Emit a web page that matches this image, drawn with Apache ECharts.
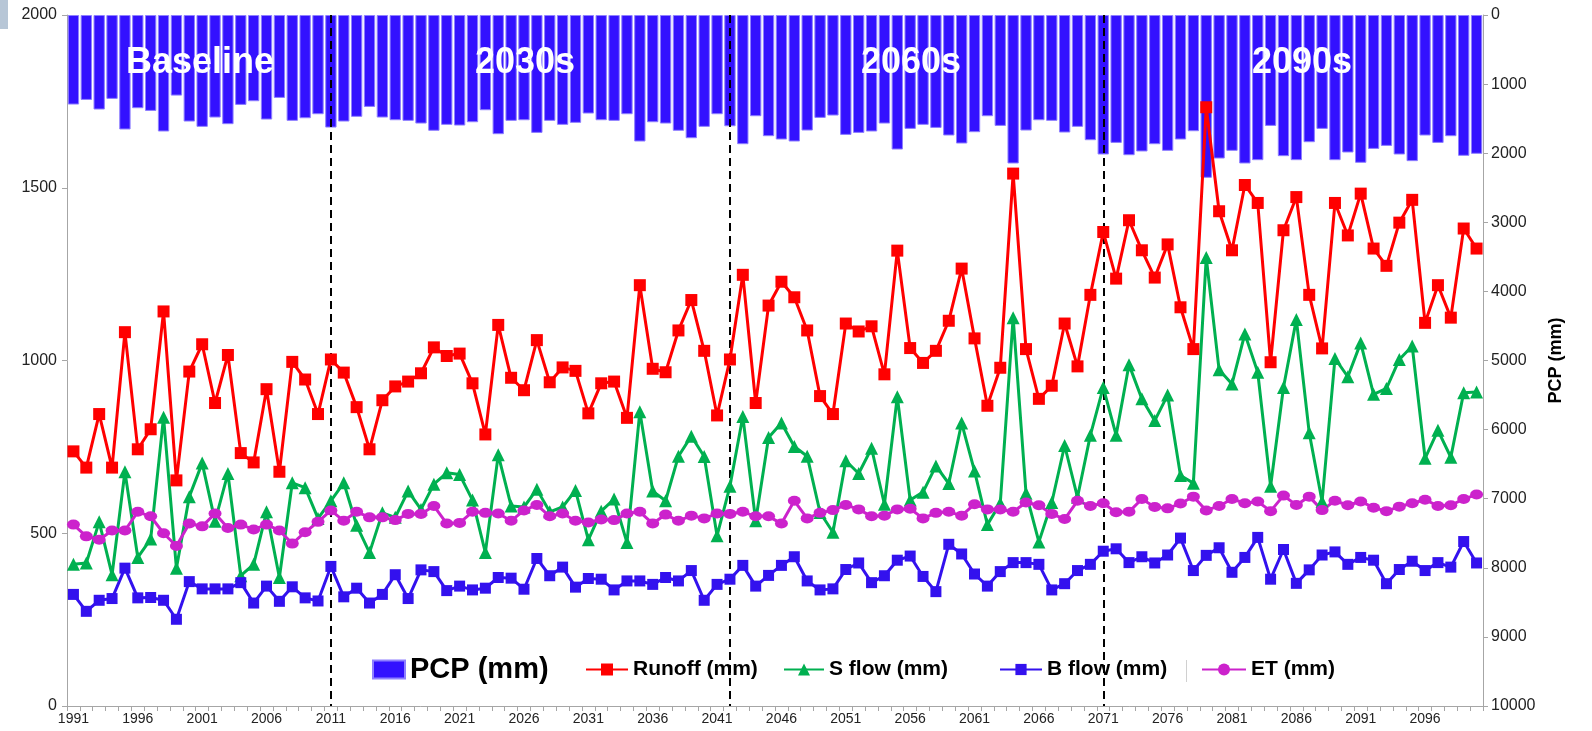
<!DOCTYPE html>
<html>
<head>
<meta charset="utf-8">
<script src="https://cdn.jsdelivr.net/npm/echarts@6/dist/echarts.min.js"></script>
<style>
html,body{margin:0;padding:0;background:#fff;}
#chart{width:1592px;height:731px;}
</style>
</head>
<body>
<div id="chart"></div>
<script>
// Categories: years 1991..2100
const years = Array.from({length: 110}, (_, i) => String(1991 + i));

const pcp = [
  1296,1229,1368,1214,1657,1349,1388,1686,1166,1542,
  1619,1484,1580,1301,1248,1513,1200,1532,1494,1436,
  1629,1542,1474,1330,1484,1523,1532,1571,1676,1590,
  1600,1552,1378,1725,1532,1523,1706,1532,1590,1561,
  1426,1523,1532,1436,1831,1552,1571,1676,1783,1619,
  1436,1610,1870,1465,1754,1802,1831,1672,1489,1455,
  1735,1706,1686,1571,1947,1648,1590,1634,1744,1860,
  1696,1465,1605,2149,1672,1523,1532,1701,1619,1812,
  2019,1851,2029,1975,1870,1966,1802,1682,2356,2077,
  1966,2149,2101,1605,2043,2101,1841,1648,2101,1990,
  2139,1938,1894,2019,2115,1744,1851,1754,2038,2009
];
const runoff = [
  737,690,845,690,1082,743,801,1142,653,968,
  1047,877,1016,732,705,917,678,996,945,845,
  1003,965,865,743,885,925,939,963,1038,1013,
  1020,934,786,1103,950,914,1059,937,980,970,
  847,934,939,834,1218,976,966,1087,1175,1028,
  841,1003,1248,877,1159,1228,1183,1087,897,845,
  1107,1084,1099,960,1318,1036,993,1028,1115,1266,
  1064,869,979,1541,1033,889,927,1107,983,1190,
  1372,1237,1406,1319,1240,1336,1154,1033,1733,1432,
  1319,1508,1456,995,1377,1473,1190,1035,1456,1362,
  1483,1324,1274,1399,1465,1109,1218,1124,1382,1324
];
const sflow = [
  410,414,533,380,678,430,483,836,399,606,
  703,535,673,377,410,562,372,646,632,543,
  594,646,523,444,559,546,622,569,642,675,
  670,596,444,727,579,576,627,562,576,624,
  481,564,599,473,852,622,594,723,781,722,
  493,636,838,536,777,819,751,723,560,503,
  710,673,746,584,895,596,619,695,644,819,
  680,525,587,1124,616,475,589,754,604,784,
  922,784,988,889,826,900,667,645,1298,973,
  932,1077,966,636,922,1119,791,592,1006,953,
  1051,902,919,1003,1042,717,798,720,907,909
];
const bflow = [
  323,274,306,311,399,313,314,306,251,360,
  339,339,339,357,298,347,303,345,313,304,
  404,316,341,298,323,380,311,394,389,334,
  347,336,341,372,370,338,427,377,402,344,
  369,367,336,362,362,352,372,362,392,306,
  352,367,407,347,378,407,432,362,336,339,
  395,414,357,377,422,434,375,331,468,440,
  382,347,389,415,415,410,336,354,392,410,
  448,455,415,432,414,437,486,392,436,458,
  387,430,488,367,453,355,394,437,446,410,
  430,422,354,395,419,392,415,402,476,414
];
const et = [
  525,491,481,508,508,562,549,500,463,528,
  520,557,515,525,511,525,508,470,503,533,
  566,536,562,546,546,538,556,556,579,528,
  530,562,559,557,536,566,582,549,557,536,
  531,540,538,557,562,528,554,536,551,543,
  557,556,562,549,549,528,594,543,559,567,
  582,569,549,551,569,571,543,559,562,551,
  584,569,569,562,589,581,556,541,594,579,
  587,561,562,599,576,572,586,606,566,579,
  599,587,592,564,609,582,606,567,594,581,
  592,574,564,577,587,597,579,581,599,612
];
const periodBreaks = ['2011', '2042', '2071'];
const periodLabels = ['Baseline', '2030s', '2060s', '2090s'];
const leftTicks = {min: 0, max: 2000, interval: 500};
const rightTicks = {min: 0, max: 10000, interval: 1000};

const chart = echarts.init(document.getElementById('chart'));
const FONT = '"Liberation Sans", Arial, sans-serif';
const labelColor = '#222';
const axisGrey = '#a6a6a6';
const plain = v => String(v);

function lineSeries(name, data, color, symbol, size, width) {
  return {
    name, type: 'line', data, yAxisIndex: 0,
    symbol, symbolSize: size, showSymbol: true, showAllSymbol: true,
    lineStyle: {color, width},
    itemStyle: {color},
    z: 5
  };
}

const periodCenters = [200, 525, 911, 1302];
const legendText = {fontFamily: FONT, fontWeight: 'bold', fontSize: 21, color: '#000'};

const option = {
  animation: false,
  grid: {left: 67, right: 109, top: 15, bottom: 25, containLabel: false},
  xAxis: {
    type: 'category', data: years, boundaryGap: true,
    axisLine: {lineStyle: {color: axisGrey, width: 1}},
    axisTick: {show: true, interval: 0, length: 5, lineStyle: {color: axisGrey}},
    axisLabel: {interval: 4, color: labelColor, fontFamily: FONT, fontSize: 14, margin: 6}
  },
  yAxis: [
    {
      type: 'value', min: leftTicks.min, max: leftTicks.max, interval: leftTicks.interval,
      position: 'left',
      splitLine: {show: false},
      axisLine: {show: true, lineStyle: {color: axisGrey}},
      axisTick: {show: true, length: 5, lineStyle: {color: axisGrey}},
      axisLabel: {color: labelColor, fontFamily: FONT, fontSize: 16, margin: 10, formatter: plain}
    },
    {
      type: 'value', min: rightTicks.min, max: rightTicks.max, interval: rightTicks.interval,
      position: 'right', inverse: true,
      name: 'PCP (mm)', nameLocation: 'middle', nameGap: 64, nameRotate: 90,
      nameTextStyle: {color: '#000', fontFamily: FONT, fontWeight: 'bold', fontSize: 18},
      splitLine: {show: false},
      axisLine: {show: true, lineStyle: {color: axisGrey}},
      axisTick: {show: true, length: 5, lineStyle: {color: axisGrey}},
      axisLabel: {color: labelColor, fontFamily: FONT, fontSize: 16, margin: 8, formatter: plain}
    }
  ],
  legend: [
    {data: [{name: 'PCP (mm)', icon: 'rect'}], left: 372, top: 655, padding: 0, itemWidth: 32, itemHeight: 18,
     textStyle: {fontFamily: FONT, fontWeight: 'bold', fontSize: 29, color: '#000'}},
    {data: ['Runoff (mm)'], left: 585, top: 659, padding: 0, itemWidth: 42, itemHeight: 15, textStyle: legendText},
    {data: ['S flow (mm)'], left: 783, top: 659, padding: 0, itemWidth: 40, itemHeight: 15, textStyle: legendText},
    {data: ['B flow (mm)'], left: 999, top: 659, padding: 0, itemWidth: 42, itemHeight: 14, textStyle: legendText},
    {data: ['ET (mm)'], left: 1201, top: 659, padding: 0, itemWidth: 44, itemHeight: 15, textStyle: legendText}
  ],
  graphic: [
    {type: 'rect', left: 0, top: 0, shape: {width: 8, height: 29}, style: {fill: '#b7c6d6'}},
    {type: 'rect', left: 1186, top: 660, shape: {width: 1, height: 22}, style: {fill: '#d0d0d0'}}
  ].concat(periodLabels.map((t, i) => ({
    type: 'text', x: periodCenters[i], y: 63, z: 100,
    style: {text: t, fill: '#fff', lineWidth: 0,
            font: 'bold 36px "Liberation Sans", Arial, sans-serif',
            textAlign: 'center', textVerticalAlign: 'middle'}
  }))),
  series: [
    {
      name: 'PCP (mm)', type: 'bar', data: pcp, yAxisIndex: 1,
      barCategoryGap: '12%',
      itemStyle: {color: '#3311ff', borderColor: '#8f80ff', borderWidth: 1},
      z: 2,
      markLine: {
        silent: true, symbol: ['none', 'none'], label: {show: false},
        lineStyle: {color: '#000', type: [8, 5], width: 2},
        data: periodBreaks.map(y => ({xAxis: y}))
      }
    },
    lineSeries('Runoff (mm)', runoff, '#ff0000', 'rect', 12, 3),
    lineSeries('S flow (mm)', sflow, '#00b050', 'triangle', 13, 3),
    lineSeries('B flow (mm)', bflow, '#3311ee', 'rect', 11, 3),
    lineSeries('ET (mm)', et, '#cc22cc', 'circle', [13, 10], 3)
  ]
};
chart.setOption(option);
</script>
</body>
</html>
